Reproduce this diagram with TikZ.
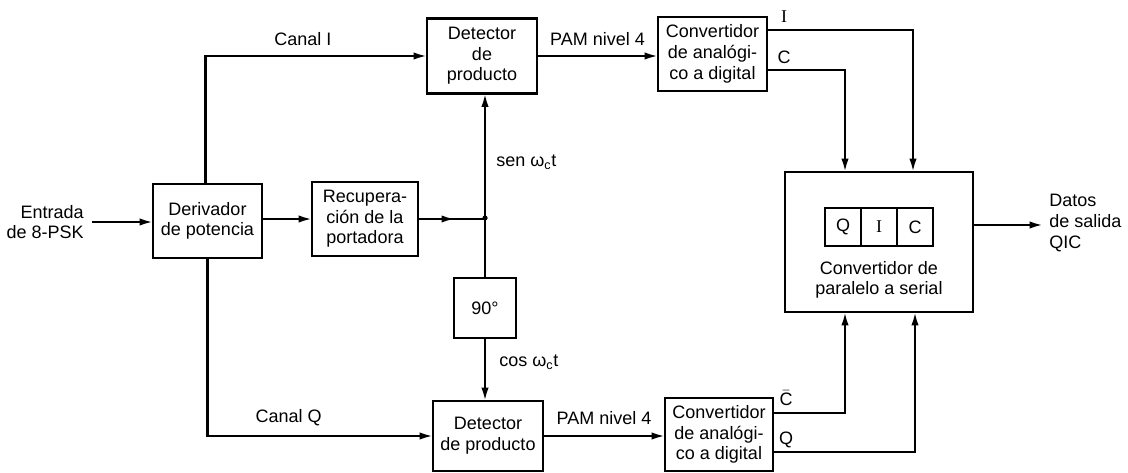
\documentclass[tikz,border=0pt]{standalone}
\usepackage{fontspec}
\setmainfont{Liberation Sans}
\newfontfamily\serifI{Liberation Serif}
\usetikzlibrary{arrows.meta,decorations.markings}
\begin{document}
\begin{tikzpicture}[x=0.75pt,y=-0.75pt,
  every node/.style={font=\fontsize{13.5}{15.5}\selectfont},
  blk/.style={draw,line width=1.7pt,inner sep=0pt,outer sep=0pt,align=center},
  lbl/.style={inner sep=0pt,align=center},
  wire/.style={line width=1.7pt},
  arr/.style={wire,-{Latex[length=10pt,width=5.5pt]}},
  midarr/.style={wire,postaction={decorate},decoration={markings,mark=at position 0.55 with {\arrow{Latex[length=10pt,width=5.5pt]}}}}
]
\useasboundingbox (0,0) rectangle (1128,473);

% blocks
\node[blk,minimum width=81.75pt,minimum height=55.5pt] (der) at (207.5,221) {Derivador\\de potencia};
\node[blk,minimum width=79.5pt,minimum height=55.5pt] (rec) at (365,219) {Recupera-\\ción de la\\portadora};
\node[blk,minimum width=82.5pt,minimum height=56.25pt] (det1) at (482,56) {Detector\\de\\producto};
\node[blk,minimum width=82.5pt,minimum height=52.5pt] (det2) at (488,436) {Detector\\de producto};
\node[blk,minimum width=81.75pt,minimum height=55.5pt] (conv1) at (712.5,54) {Convertidor\\de analógi-\\co a digital};
\node[blk,minimum width=81pt,minimum height=54.75pt] (conv2) at (719,434.5) {Convertidor\\de analógi-\\co a digital};
\node[blk,minimum width=46.5pt,minimum height=45pt] (p90) at (485,308) {90°};
\node[blk,minimum width=141pt,minimum height=105pt] (ps) at (879,242) {};
\node[blk,minimum width=27pt,minimum height=28.5pt] (q1) at (843,227) {Q};
\node[blk,minimum width=27pt,minimum height=28.5pt] (q2) at (879,227) {\serifI I};
\node[blk,minimum width=27pt,minimum height=28.5pt] (q3) at (915,227) {C};
\node[lbl] (pstxt) at (879,280) {Convertidor de\\paralelo a serial};

% external labels
\node[lbl,align=right,anchor=east] (ent) at (84,222) {Entrada\\de 8-PSK};
\node[lbl,align=left,anchor=west] (dat) at (1049,223) {Datos\\de salida\\QIC};
\coordinate (entend) at (92,222);
\coordinate (datend) at (1043,225);
\coordinate (jn) at (485,218);

% connectors
\draw[arr] (entend) -- (entend -| der.west);
\draw[arr] (der.east |- rec.west) -- (rec.west);
\draw[midarr] (rec.east) -- (rec.east -| jn);
\fill (jn) circle (2.6);
\draw[arr] (jn) -- (jn |- det1.south);
\draw[wire] (jn) -- (jn |- p90.north);
\draw[arr] (p90.south) -- (p90.south |- det2.north);
\draw[arr] ([xshift=-1.5pt]der.north) |- (det1.west) node[lbl,pos=0.72,above=7pt] (cI) {Canal I};
\draw[arr] (der.south) |- (det2.west) node[lbl,pos=0.68,above=7pt] (cQ) {Canal Q};
\draw[arr] (det1.east) -- (det1.east -| conv1.west) node[lbl,midway,above=7pt] (pam1) {PAM nivel 4};
\draw[arr] (det2.east) -- (det2.east -| conv2.west) node[lbl,midway,above=8pt] (pam2) {PAM nivel 4};
\draw[arr] ([yshift=18pt]conv1.east) -| ([xshift=25.5pt]ps.north);
\draw[arr] ([yshift=-12pt]conv1.east) -| ([xshift=-25.5pt]ps.north);
\draw[arr] ([yshift=16pt]conv2.east) -| ([xshift=-25.5pt]ps.south);
\draw[arr] ([yshift=-13pt]conv2.east) -| ([xshift=27pt]ps.south);
\draw[arr] (ps.east |- datend) -- (datend);

\node[lbl] (lI) at (784,17) {\serifI I};
\node[lbl] (lC) at (784,57) {C};
\node[lbl] (lCb) at (786,398) {$\bar{\mbox{C}}$};
\node[lbl] (lQ) at (786,440) {Q};
\node[lbl,anchor=west] (sen) at (496,162) {sen ω\textsubscript{c}t};
\node[lbl,anchor=west] (cos) at (499,362) {cos ω\textsubscript{c}t};
\end{tikzpicture}
\end{document}
